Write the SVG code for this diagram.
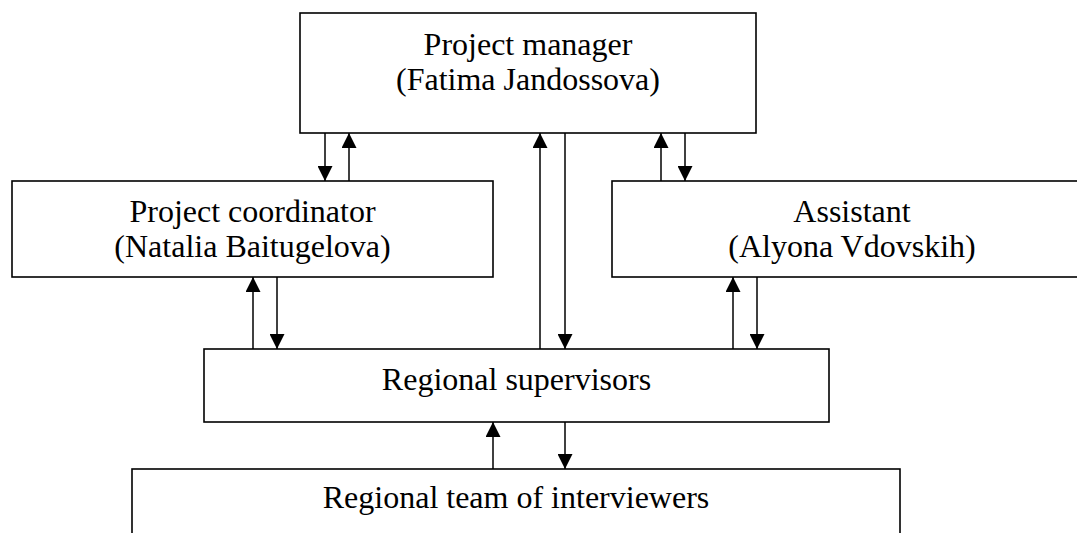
<svg xmlns="http://www.w3.org/2000/svg" width="1077" height="533" viewBox="0 0 1077 533">
<style>
.box{fill:#fff;stroke:#000;stroke-width:1.6}
.t{font-family:"Liberation Serif","Times New Roman",serif;font-size:32px;fill:#000;text-anchor:middle}
.c{stroke:#000;stroke-width:1.5;fill:none;marker-end:url(#ah)}
</style>
<defs>
<marker id="ah" viewBox="0 0 10 10" refX="10" refY="5" markerUnits="userSpaceOnUse" markerWidth="15" markerHeight="15" orient="auto">
<path d="M0,0 L10,5 L0,10 z" fill="#000"/>
</marker>
</defs>
<rect width="1077" height="533" fill="#fff"/>
<g id="pm">
<rect class="box" x="300" y="13" width="456" height="120"/>
<text class="t" x="528" y="55">Project manager</text>
<text class="t" x="528" y="90">(Fatima Jandossova)</text>
</g>
<g id="pc">
<rect class="box" x="12" y="181" width="481" height="96"/>
<text class="t" x="252.5" y="222">Project coordinator</text>
<text class="t" x="252.5" y="257">(Natalia Baitugelova)</text>
</g>
<g id="assistant">
<rect class="box" x="612" y="181" width="480" height="96"/>
<text class="t" x="852" y="222">Assistant</text>
<text class="t" x="852" y="257">(Alyona Vdovskih)</text>
</g>
<g id="rs">
<rect class="box" x="204" y="349" width="625" height="73"/>
<text class="t" x="516.5" y="390">Regional supervisors</text>
</g>
<g id="team">
<rect class="box" x="132" y="469" width="768" height="80"/>
<text class="t" x="516" y="508">Regional team of interviewers</text>
</g>
<g id="connectors">
<line class="c" x1="325" y1="133" x2="325" y2="181"/>
<line class="c" x1="349" y1="181" x2="349" y2="133"/>
<line class="c" x1="661" y1="181" x2="661" y2="133"/>
<line class="c" x1="685" y1="133" x2="685" y2="181"/>
<line class="c" x1="253" y1="349" x2="253" y2="277"/>
<line class="c" x1="277" y1="277" x2="277" y2="349"/>
<line class="c" x1="540" y1="349" x2="540" y2="133"/>
<line class="c" x1="565" y1="133" x2="565" y2="349"/>
<line class="c" x1="733" y1="349" x2="733" y2="277"/>
<line class="c" x1="757" y1="277" x2="757" y2="349"/>
<line class="c" x1="493" y1="469" x2="493" y2="422"/>
<line class="c" x1="565" y1="422" x2="565" y2="469"/>
</g>
</svg>
